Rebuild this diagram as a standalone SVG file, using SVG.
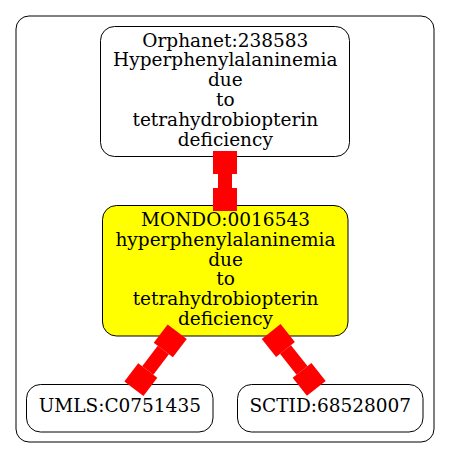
<svg xmlns="http://www.w3.org/2000/svg" width="451" height="459" viewBox="0 0 451 459">
<style>
.bg{fill:#ffffff}
.cluster{fill:none;stroke:#000;stroke-width:1}
.node{fill:#ffffff;stroke:#000;stroke-width:1}
.hl{fill:#ffff00}
.lbl{font-family:"DejaVu Serif","Liberation Serif",serif;font-size:18.5px;fill:#000;text-anchor:middle}
.stem{stroke:#ff0000;stroke-width:14;fill:none}
.box{fill:#ff0000}
</style>
<defs>
<rect id="box" class="box" x="0" y="-12" width="23" height="24"/>
</defs>
<rect class="bg" x="0" y="0" width="451" height="459"/>
<rect class="cluster" x="16" y="16" width="418" height="426" rx="13" ry="13"/>
<g id="orphanet">
  <rect class="node" x="100.5" y="26.5" width="249" height="130" rx="14" ry="14"/>
  <text class="lbl" x="225.3" y="46.5">Orphanet:238583</text>
  <text class="lbl" x="225.3" y="66.3">Hyperphenylalaninemia</text>
  <text class="lbl" x="225.3" y="86.1">due</text>
  <text class="lbl" x="225.3" y="105.9">to</text>
  <text class="lbl" x="225.3" y="125.7">tetrahydrobiopterin</text>
  <text class="lbl" x="225.3" y="145.5">deficiency</text>
</g>
<g id="mondo">
  <rect class="node hl" x="102.5" y="205.5" width="245.5" height="130.5" rx="14" ry="14"/>
  <text class="lbl" x="225.5" y="226">MONDO:0016543</text>
  <text class="lbl" x="225.5" y="245.8">hyperphenylalaninemia</text>
  <text class="lbl" x="225.5" y="265.6">due</text>
  <text class="lbl" x="225.5" y="285.4">to</text>
  <text class="lbl" x="225.5" y="305.2">tetrahydrobiopterin</text>
  <text class="lbl" x="225.5" y="325">deficiency</text>
</g>
<g id="umls">
  <rect class="node" x="26.5" y="384.5" width="186.5" height="47.5" rx="14" ry="14"/>
  <text class="lbl" x="119.8" y="412">UMLS:C0751435</text>
</g>
<g id="sctid">
  <rect class="node" x="237.5" y="384.5" width="185.5" height="47.5" rx="14" ry="14"/>
  <text class="lbl" x="330.3" y="412">SCTID:68528007</text>
</g>
<g id="connectors">
  <g id="e1" transform="translate(225,157) rotate(90)">
    <line class="stem" x1="17" y1="0" x2="31" y2="0"/>
    <use href="#box" x="-6"/>
    <use href="#box" x="31"/>
  </g>
  <g id="e2" transform="translate(173.6,336.5) rotate(127.2)">
    <line class="stem" x1="17" y1="0" x2="42.7" y2="0"/>
    <use href="#box" x="-6"/>
    <use href="#box" x="42.7"/>
  </g>
  <g id="e3" transform="translate(274.9,336.2) rotate(51.56)">
    <line class="stem" x1="17" y1="0" x2="43.6" y2="0"/>
    <use href="#box" x="-6"/>
    <use href="#box" x="43.6"/>
  </g>
</g>
</svg>
